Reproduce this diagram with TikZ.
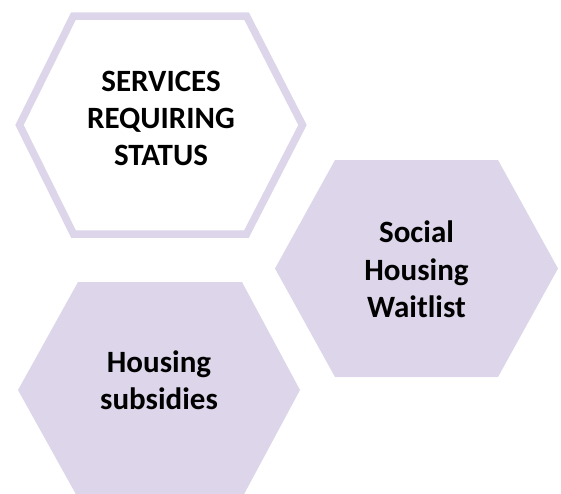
\documentclass[tikz,border=0pt]{standalone}
\usepackage{fontspec}
\setmainfont{Carlito}
\definecolor{lav}{RGB}{221,213,234}
\begin{document}
\begin{tikzpicture}[x=1pt,y=-1pt,
  hexfill/.style={fill=lav},
  hexline/.style={draw=lav,line width=7.5pt,line join=miter,fill=white},
  lbl/.style={font=\bfseries\fontsize{31}{37.3}\selectfont,align=center,inner sep=0pt,text=black}]
\useasboundingbox (0,0) rectangle (561,493);
% hexagon 1 (outlined)
\draw[hexline] (19.5,125) -- (73.5,16) -- (246.5,16) -- (302.5,125) -- (246.5,234) -- (73.5,234) -- cycle;
% hexagon 2
\fill[hexfill] (275,268.5) -- (335,160) -- (498,160) -- (558,268.5) -- (498,377) -- (335,377) -- cycle;
% hexagon 3
\fill[hexfill] (18,390) -- (78,282) -- (242,282) -- (300,390) -- (242,498) -- (78,498) -- cycle;
\node[lbl] (t1) at (161,118.4) {SERVICES\\REQUIRING\\STATUS};
\node[lbl] (t2) at (416.5,269.4) {Social\\Housing\\Waitlist};
\node[lbl] (t3) at (159,380.3) {Housing\\subsidies};
\end{tikzpicture}
\end{document}
